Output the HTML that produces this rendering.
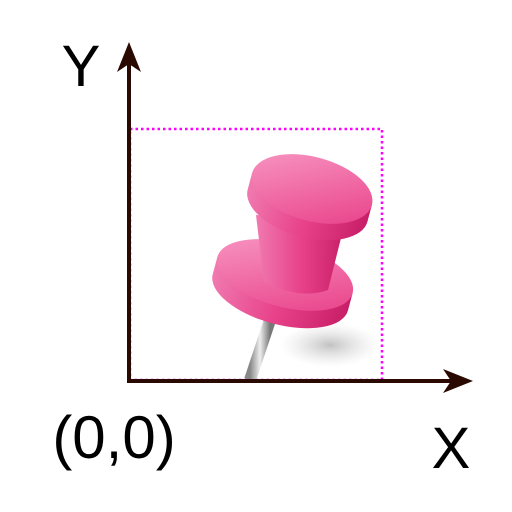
<!DOCTYPE html>
<html><head><style>
html,body{margin:0;padding:0;background:#fff;}
svg{display:block;}
text{font-family:"Liberation Sans",sans-serif;fill:#000;}
</style></head><body>
<svg width="512" height="512" viewBox="0 0 512 512">
<defs>
<linearGradient id="pk" x1="0" y1="0" x2="1" y2="0">
<stop offset="0" stop-color="#f07ab0"/><stop offset="0.5" stop-color="#e8428a"/><stop offset="1" stop-color="#c81e68"/>
</linearGradient>
<linearGradient id="pkt" x1="0" y1="0" x2="1" y2="1">
<stop offset="0" stop-color="#f89ac4"/><stop offset="1" stop-color="#e83c86"/>
</linearGradient>
<linearGradient id="pin" x1="0" y1="0" x2="1" y2="0">
<stop offset="0" stop-color="#888"/><stop offset="0.5" stop-color="#eee"/><stop offset="1" stop-color="#777"/>
</linearGradient>
<radialGradient id="sh"><stop offset="0" stop-color="#999" stop-opacity="0.6"/><stop offset="1" stop-color="#ccc" stop-opacity="0"/></radialGradient>
</defs>
<rect x="130" y="129" width="252" height="251" fill="none" stroke="#f0f" stroke-width="2.5" stroke-dasharray="2.5,3"/>
<g>
<ellipse cx="330" cy="345" rx="50" ry="22" fill="url(#sh)"/>
<line x1="270" y1="320" x2="250" y2="380" stroke="url(#pin)" stroke-width="12"/>
<g transform="rotate(15 285 275)">
<path d="M215 275 v18 a70 32 0 0 0 140 0 v-18 z" fill="url(#pk)"/>
<ellipse cx="285" cy="275" rx="70" ry="32" fill="url(#pkt)"/>
</g>
<path d="M256 215 L264 282 Q300 300 328 290 L345 222 z" fill="url(#pk)"/>
<g transform="rotate(15 312 189)">
<path d="M250 189 v17 a62 32 0 0 0 124 0 v-17 z" fill="url(#pk)"/>
<ellipse cx="312" cy="189" rx="62" ry="32" fill="url(#pkt)"/>
</g>
</g>
<line x1="129" y1="382" x2="129" y2="52" stroke="#2a0a00" stroke-width="4"/>
<path d="M129 42 L141 72 L129 64 L117 72 z" fill="#2a0a00"/>
<line x1="127" y1="381" x2="462" y2="381" stroke="#2a0a00" stroke-width="4"/>
<path d="M473 381 L443 369 L451 381 L443 393 z" fill="#2a0a00"/>
<text x="81" y="86" font-size="58" text-anchor="middle">Y</text>
<text x="451" y="468" font-size="58" text-anchor="middle">X</text>
<text x="114" y="458" font-size="60" text-anchor="middle">(0,0)</text>
</svg>
</body></html>
